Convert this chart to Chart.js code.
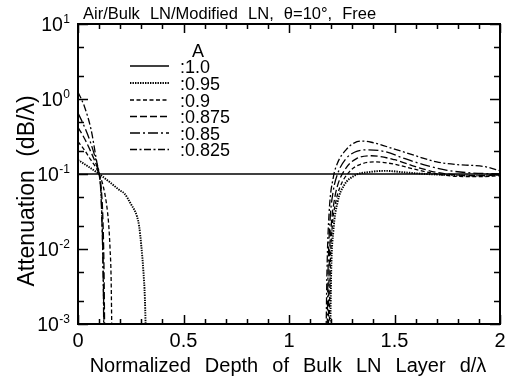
<!DOCTYPE html>
<html><head><meta charset="utf-8">
<script src="https://cdn.jsdelivr.net/npm/chart.js@4/dist/chart.umd.min.js"></script>
<style>html,body{margin:0;padding:0;background:#fff}</style>
</head><body>
<canvas id="c" width="507" height="377"></canvas>
<script>
const titleText = 'Air/Bulk LN/Modified LN, θ=10°, Free';
const xTitle = 'Normalized Depth of Bulk LN Layer d/λ';
const yTitle = 'Attenuation (dB/λ)';
const legendHeader = 'A';
const seriesLabels = [':1.0', ':0.95', ':0.9', ':0.875', ':0.85', ':0.825'];
const xTickValues = [0, 0.5, 1, 1.5, 2];
const xTickLabels = ['0', '0.5', '1', '1.5', '2'];
const yTickExponents = [1, 0, -1, -2, -3];

// A = 1.0
const x100 = [0, 2];
const y100 = [0.1, 0.1];
// A = 0.95
const xL095 = [0, 0.05, 0.1, 0.15, 0.2, 0.22, 0.25, 0.28, 0.29, 0.3, 0.31, 0.317, 0.323];
const yL095 = [0.154, 0.125, 0.1, 0.078, 0.06, 0.055, 0.04, 0.027, 0.02, 0.011, 0.005, 0.0022, 0.0005];
const xR095 = [1.195, 1.2, 1.21, 1.23, 1.26, 1.31, 1.39, 1.46, 1.55, 1.65, 1.8, 1.9, 2.0];
const yR095 = [0.0005, 0.005, 0.017, 0.042, 0.07, 0.095, 0.107, 0.11, 0.105, 0.1, 0.096, 0.095, 0.097];
// A = 0.9
const xL090 = [0, 0.03, 0.06, 0.09, 0.1, 0.12, 0.135, 0.145, 0.152, 0.157, 0.161];
const yL090 = [0.27, 0.21, 0.155, 0.115, 0.1, 0.068, 0.04, 0.022, 0.01, 0.004, 0.0005];
const xR090 = [1.19, 1.195, 1.205, 1.22, 1.24, 1.29, 1.34, 1.41, 1.5, 1.6, 1.7, 1.8, 1.9, 2.0];
const yR090 = [0.0005, 0.005, 0.02, 0.04, 0.065, 0.11, 0.135, 0.145, 0.135, 0.115, 0.1, 0.093, 0.092, 0.095];
// A = 0.875
const xL0875 = [0, 0.03, 0.06, 0.09, 0.1, 0.11, 0.118, 0.123, 0.127];
const yL0875 = [0.42, 0.3, 0.2, 0.125, 0.1, 0.065, 0.025, 0.006, 0.0005];
const xR0875 = [1.185, 1.19, 1.2, 1.215, 1.23, 1.27, 1.32, 1.39, 1.5, 1.6, 1.7, 1.8, 1.9, 2.0];
const yR0875 = [0.0005, 0.005, 0.02, 0.045, 0.07, 0.12, 0.16, 0.175, 0.155, 0.125, 0.105, 0.097, 0.095, 0.097];
// A = 0.85
const xL085 = [0, 0.03, 0.06, 0.09, 0.1, 0.108, 0.114, 0.119, 0.123];
const yL085 = [0.65, 0.43, 0.26, 0.135, 0.1, 0.06, 0.02, 0.005, 0.0005];
const xR085 = [1.18, 1.185, 1.195, 1.21, 1.23, 1.27, 1.31, 1.37, 1.45, 1.55, 1.65, 1.75, 1.85, 2.0];
const yR085 = [0.0005, 0.005, 0.025, 0.06, 0.1, 0.16, 0.195, 0.21, 0.2, 0.16, 0.13, 0.112, 0.104, 0.1];
// A = 0.825
const xL0825 = [0, 0.03, 0.062, 0.09, 0.102, 0.11, 0.116, 0.12, 0.124];
const yL0825 = [1.24, 0.8, 0.39, 0.14, 0.095, 0.05, 0.015, 0.004, 0.0005];
const xR0825 = [1.175, 1.18, 1.19, 1.21, 1.23, 1.27, 1.31, 1.35, 1.39, 1.5, 1.6, 1.7, 1.8, 1.87, 1.93, 2.0];
const yR0825 = [0.0005, 0.005, 0.03, 0.09, 0.14, 0.21, 0.26, 0.275, 0.265, 0.215, 0.175, 0.145, 0.133, 0.13, 0.125, 0.11];

function seg(xs, ys) { return xs.map((x, i) => ({x: x, y: ys[i]})); }
function twoSeg(xl, yl, xr, yr) { return seg(xl, yl).concat([{x: 0.7, y: null}], seg(xr, yr)); }

const FONT = '"Liberation Sans", Arial, Helvetica, sans-serif';
const styles = [
  {dash: [], w: 1.3},
  {dash: [1.4, 1.1], w: 1.9},
  {dash: [4, 2.5], w: 1.3},
  {dash: [7, 3], w: 1.3},
  {dash: [10, 3, 2, 3], w: 1.3},
  {dash: [7, 2.5, 2, 2.5], w: 1.3}
];
const dataSets = [
  seg(x100, y100),
  twoSeg(xL095, yL095, xR095, yR095),
  twoSeg(xL090, yL090, xR090, yR090),
  twoSeg(xL0875, yL0875, xR0875, yR0875),
  twoSeg(xL085, yL085, xR085, yR085),
  twoSeg(xL0825, yL0825, xR0825, yR0825)
];

// draw text; gap = extra px added to every word space (drawn word by word)
function txt(ctx, s, x, y, size, align, base, gap, rot) {
  ctx.save();
  ctx.font = size + 'px ' + FONT;
  ctx.textBaseline = base; ctx.fillStyle = '#000';
  ctx.translate(x, y);
  if (rot) ctx.rotate(rot);
  if (!gap) {
    ctx.textAlign = align;
    ctx.fillText(s, 0, 0);
  } else {
    const words = s.split(' ');
    const sp = ctx.measureText(' ').width + gap;
    const widths = words.map(w => ctx.measureText(w).width);
    const total = widths.reduce((p, c) => p + c, 0) + sp * (words.length - 1);
    let cx = align === 'center' ? -total / 2 : (align === 'right' ? -total : 0);
    ctx.textAlign = 'left';
    words.forEach((w, i) => { ctx.fillText(w, cx, 0); cx += widths[i] + sp; });
  }
  ctx.restore();
}

const decor = {
  id: 'decor',
  afterDraw(chart) {
    const ctx = chart.ctx, a = chart.chartArea, xs = chart.scales.x, ys = chart.scales.y;
    ctx.save();
    ctx.strokeStyle = '#000'; ctx.lineWidth = 2; ctx.setLineDash([]);
    ctx.strokeRect(a.left, a.top, a.right - a.left, a.bottom - a.top);
    ctx.lineWidth = 1.5;
    ctx.beginPath();
    for (let i = 0; i <= 20; i++) {
      const v = i / 10, px = Math.round(xs.getPixelForValue(v)) + 0.5;
      const len = (i % 5 === 0) ? 9 : 5;
      ctx.moveTo(px, a.bottom); ctx.lineTo(px, a.bottom - len);
      ctx.moveTo(px, a.top); ctx.lineTo(px, a.top + len);
    }
    for (let e = -3; e <= 1; e++) {
      const py = Math.round(ys.getPixelForValue(Math.pow(10, e))) + 0.5;
      ctx.moveTo(a.left, py); ctx.lineTo(a.left + 10, py);
      ctx.moveTo(a.right, py); ctx.lineTo(a.right - 10, py);
      if (e < 1) {
        [2, 5].forEach(m => {
          const q = Math.round(ys.getPixelForValue(m * Math.pow(10, e))) + 0.5;
          ctx.moveTo(a.left, q); ctx.lineTo(a.left + 6, q);
          ctx.moveTo(a.right, q); ctx.lineTo(a.right - 6, q);
        });
      }
    }
    ctx.stroke();
    // x tick labels
    xTickValues.forEach((v, i) => {
      txt(ctx, xTickLabels[i], xs.getPixelForValue(v), a.bottom + 23, 20, 'center', 'alphabetic');
    });
    // y tick labels
    yTickExponents.forEach(e => {
      const py = ys.getPixelForValue(Math.pow(10, e));
      const ex = String(e);
      ctx.font = '12px ' + FONT;
      const ew = ctx.measureText(ex).width;
      const right = 70;
      txt(ctx, ex, right, py - 1, 12, 'right', 'alphabetic');
      txt(ctx, '10', right - ew - 0.5, py + 7, 19.5, 'right', 'alphabetic');
    });
    // titles
    txt(ctx, titleText, 83, 18.5, 16.5, 'left', 'alphabetic', 5.5);
    txt(ctx, xTitle, 288, 372, 20, 'center', 'alphabetic', 8.5);
    txt(ctx, yTitle, 34, 191, 23, 'center', 'alphabetic', 7, -Math.PI / 2);
    // legend
    txt(ctx, legendHeader, 198, 57, 18, 'center', 'alphabetic');
    const rows = [66, 83, 100, 116.5, 133, 149.5];
    chart.data.datasets.forEach((ds, i) => {
      const y = rows[i];
      ctx.save();
      ctx.strokeStyle = '#000'; ctx.lineWidth = ds.borderWidth; ctx.setLineDash(ds.borderDash || []);
      ctx.beginPath(); ctx.moveTo(130, y); ctx.lineTo(169, y); ctx.stroke();
      ctx.restore();
      txt(ctx, seriesLabels[i], 180, y + 6.5, 18, 'left', 'alphabetic');
    });
    ctx.restore();
  }
};

new Chart(document.getElementById('c'), {
  type: 'line',
  data: {
    datasets: dataSets.map((d, i) => ({
      label: seriesLabels[i],
      data: d,
      borderColor: '#000',
      borderWidth: styles[i].w,
      borderDash: styles[i].dash,
      pointRadius: 0,
      fill: false,
      spanGaps: false,
      cubicInterpolationMode: 'monotone'
    }))
  },
  options: {
    responsive: false,
    animation: false,
    devicePixelRatio: 1,
    layout: {padding: {left: 78, right: 7, top: 24, bottom: 53}},
    plugins: {legend: {display: false}, tooltip: {enabled: false}, title: {display: false}},
    scales: {
      x: {type: 'linear', min: 0, max: 2, display: false},
      y: {type: 'logarithmic', min: 0.001, max: 10, display: false}
    }
  },
  plugins: [decor]
});
</script>
</body></html>
